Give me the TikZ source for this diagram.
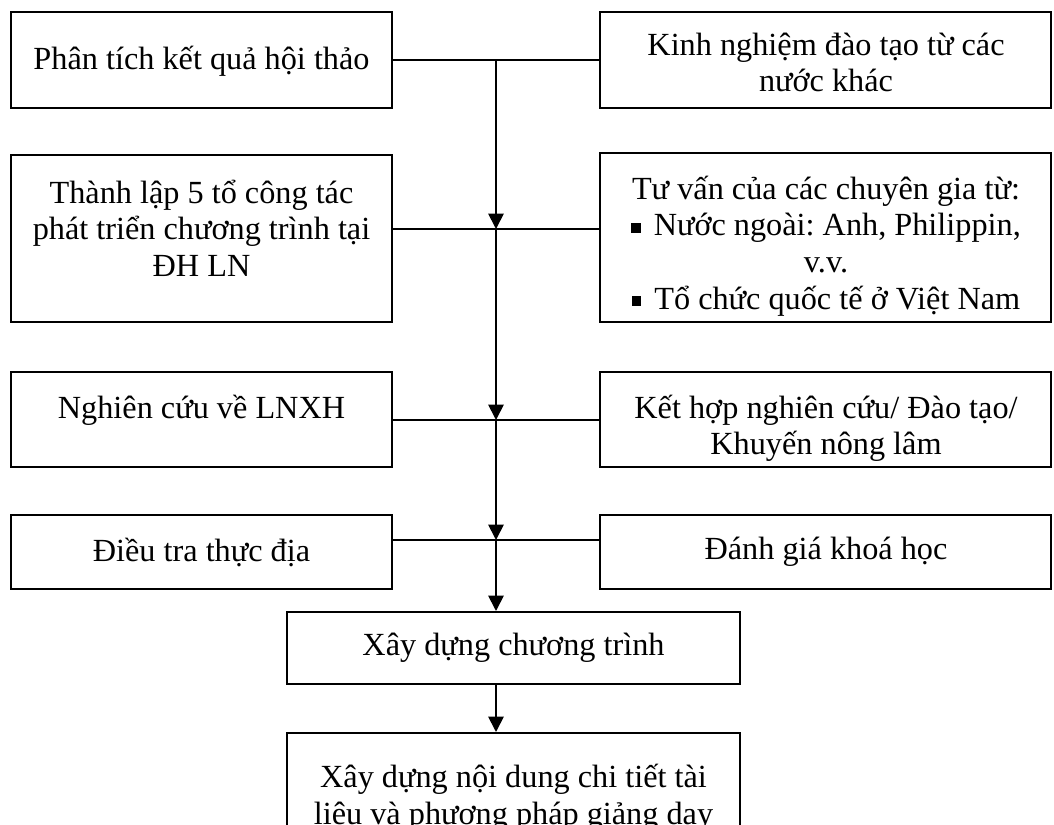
\documentclass[tikz,border=0pt]{standalone}
\usepackage{fontspec}
\setmainfont{Liberation Serif}
\usetikzlibrary{arrows.meta}
\newcommand{\sqbul}{\rule[0.1em]{0.3em}{0.3em}\hspace{0.15em}}
\frenchspacing
\begin{document}
\begin{tikzpicture}[x=0.75pt,y=-0.75pt,
  boxnode/.style={draw=black,line width=1.5pt,rectangle,inner sep=0pt},
  txt/.style={inner sep=0pt,align=center,font=\fontsize{24.2pt}{27.4pt}\selectfont},
  conn/.style={line width=1.3pt},
  arr/.style={line width=1.3pt,-{Triangle[length=11.5pt,width=11.5pt]}}]
\useasboundingbox (0,0) rectangle (1054,825);
\clip (0,0) rectangle (1054,825);
% boxes
\node[boxnode,minimum width=381*0.75pt,minimum height=96*0.75pt] (L1) at (201.5,60) {};
\node[boxnode,minimum width=451*0.75pt,minimum height=96*0.75pt] (R1) at (825.5,60) {};
\node[boxnode,minimum width=381*0.75pt,minimum height=167*0.75pt] (L2) at (201.5,238.5) {};
\node[boxnode,minimum width=451*0.75pt,minimum height=169*0.75pt] (R2) at (825.5,237.5) {};
\node[boxnode,minimum width=381*0.75pt,minimum height=95*0.75pt] (L3) at (201.5,419.5) {};
\node[boxnode,minimum width=451*0.75pt,minimum height=95*0.75pt] (R3) at (825.5,419.5) {};
\node[boxnode,minimum width=381*0.75pt,minimum height=74*0.75pt] (L4) at (201.5,552) {};
\node[boxnode,minimum width=451*0.75pt,minimum height=74*0.75pt] (R4) at (825.5,552) {};
\node[boxnode,minimum width=453*0.75pt,minimum height=72*0.75pt] (B5) at (513.5,648) {};
\node[boxnode,minimum width=453*0.75pt,minimum height=130*0.75pt] (B6) at (513.5,798) {};
% texts
\node[txt] (tL1) at (201.5,61) {Phân tích kết quả hội thảo};
\node[txt] (tR1) at (826,62.5) {Kinh nghiệm đào tạo từ các\\nước khác};
\node[txt] (tL2) at (201.5,228) {Thành lập 5 tổ công tác\\phát triển chương trình tại\\ĐH LN};
\node[txt] (tR2) at (826,246) {Tư vấn của các chuyên gia từ:\\\sqbul{} Nước ngoài: Anh, Philippin,\\v.v.\\\sqbul{} Tổ chức quốc tế ở Việt Nam};
\node[txt] (tL3) at (201.5,410) {Nghiên cứu về LNXH};
\node[txt] (tR3) at (826,428.5) {Kết hợp nghiên cứu/ Đào tạo/\\Khuyến nông lâm};
\node[txt] (tL4) at (201.5,552) {Điều tra thực địa};
\node[txt] (tR4) at (826,552) {Đánh giá khoá học};
\node[txt] (tB5) at (513.5,648) {Xây dựng chương trình};
\node[txt] (tB6) at (513.5,798) {Xây dựng nội dung chi tiết tài\\liệu và phương pháp giảng dạy};
% junctions
\coordinate (j1) at (496,60);
\coordinate (j2) at (496,229);
\coordinate (j3) at (496,420);
\coordinate (j4) at (496,540);
% connectors
\draw[conn] (L1.east) -- (R1.west);
\draw[conn] (L2.east |- j2) -- (R2.west |- j2);
\draw[conn] (L3.east |- j3) -- (R3.west |- j3);
\draw[conn] (L4.east |- j4) -- (R4.west |- j4);
\draw[arr] (j1) -- (j2);
\draw[arr] (j2) -- (j3);
\draw[arr] (j3) -- (j4);
\draw[arr] (j4) -- (B5.north -| j4);
\draw[arr] (B5.south -| j4) -- (B6.north -| j4);
\end{tikzpicture}
\end{document}
